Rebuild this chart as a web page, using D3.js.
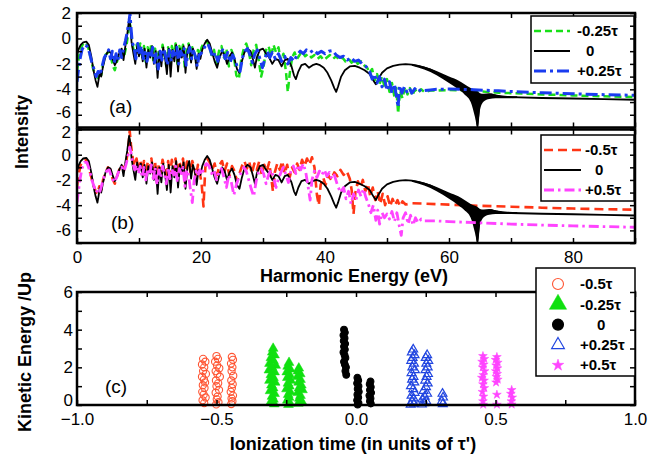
<!DOCTYPE html>
<html>
<head>
<meta charset="utf-8">
<script src="https://cdn.jsdelivr.net/npm/d3@7"></script>
<style>
  body { margin: 0; background: #fff; }
  svg { display: block; font-family: Arial, "Liberation Sans", sans-serif; }
</style>
</head>
<body>
<div id="chart"></div>
<script>
// ---- spectra (harmonic energy eV, log intensity) ----
const zeroTrace = [
[0,-1.3],[0.3,-0.8],[0.6,-0.5],[1.0,-0.3],[1.5,-0.25],[1.9,-0.5],[2.3,-1.4],[2.7,-2.6],[3.0,-3.3],[3.3,-3.8],[3.5,-3.2],[3.7,-2.6],[3.9,-3.0],[4.2,-2.2],[4.6,-1.4],[5.0,-1.0],[5.4,-1.1],[5.8,-1.7],[6.1,-2.1],[6.4,-1.8],[6.8,-1.2],[7.2,-0.8],[7.5,-1.7],[7.8,-0.6],[8.1,0.3],[8.4,1.5],[8.6,1.0],[8.8,-0.3],[9.1,-1.2],
[9.4,-2.0],[9.7,-0.6],[10.0,-1.4],[10.3,-0.7],[10.6,-1.8],[10.9,-0.8],[11.2,-2.3],[11.5,-0.9],[11.8,-1.5],[12.1,-0.6],[12.4,-2.0],[12.7,-1.0],[13.0,-3.1],[13.3,-1.0],[13.6,-2.2],[13.9,-0.7],[14.2,-1.5],[14.5,-2.8],[14.8,-0.8],[15.1,-3.0],[15.4,-0.9],[15.7,-1.8],[16.0,-0.5],[16.3,-2.6],[16.6,-0.8],[16.9,-1.5],[17.2,-0.6],[17.5,-2.7],[17.8,-1.0],[18.1,-0.5],[18.4,-1.9],[18.7,-0.8],[19.0,-1.3],[19.3,-2.4],[19.6,-1.2],[19.9,-1.6],[20.2,-0.9],[20.6,-0.4],[21.0,-0.1],[21.4,-0.4],[21.8,-1.1],
[22.2,-1.8],[22.6,-2.3],[23.0,-1.5],[23.4,-1.0],[23.8,-1.3],[24.2,-2.0],[24.6,-1.4],[25.0,-1.1],[25.4,-1.6],[25.8,-2.4],[26.2,-2.7],[26.6,-1.8],[27.0,-1.1],[27.5,-0.8],[28.0,-1.0],[28.4,-1.7],[28.7,-2.3],[29.0,-1.5],[29.5,-0.9],[30.0,-0.8],[30.5,-1.2],[31.0,-1.5],[31.5,-2.0],[32.0,-1.6],[32.5,-1.7],[33.0,-2.2],[33.5,-1.7],[34.0,-1.6],[34.6,-2.2],[35.0,-2.9],[35.3,-3.2],[35.7,-2.6],[36.2,-2.1],[36.8,-2.0],[37.4,-2.3],[38.0,-2.1],[38.6,-2.0],[39.2,-2.1],[39.8,-2.3],[40.4,-2.7],[41.0,-3.3],[41.5,-3.9],[41.8,-4.2],[42.1,-3.8],[42.6,-3.0],[43.2,-2.5],[44.0,-2.2],[44.8,-2.15],[45.6,-2.3],[46.4,-2.5],[47.2,-2.8],[47.8,-3.3],[48.2,-3.6],[48.6,-3.2],[49.2,-2.7],[50.0,-2.35],[51.0,-2.15],[52.0,-2.05],[53.0,-2.02],[54.0,-2.05],[55.0,-2.15],[56.0,-2.3],[57.0,-2.45],[58.0,-2.7],[59.0,-2.95],[60.0,-3.25],[61.0,-3.55],[62.0,-3.9],[63.0,-4.2],[63.8,-4.6],[64.3,-5.6],[64.6,-6.9],[64.9,-5.2],[65.4,-4.7],[66.0,-4.5],[66.8,-4.4],[67.6,-4.5],[68.5,-4.6],[70,-4.62],[75,-4.68],[80,-4.72],[85,-4.77],[90,-4.82]
];
// fast fringes of the 0 curve: [energy, upper, lower]
const zeroBand = [[54,-2.0,-2.15],[56,-2.2,-2.45],[58,-2.55,-2.9],[60,-3.0,-3.5],[61.5,-3.3,-4.0],[62.5,-3.6,-4.4],[63.5,-3.9,-5.0],[64.2,-4.05,-6.2],[64.6,-4.15,-7.0],[65.0,-4.3,-5.6],[65.6,-4.35,-4.95],[66.5,-4.3,-4.75],[67.5,-4.4,-4.7],[69,-4.5,-4.7],[71,-4.55,-4.68]];

const minusQuarter = [
[0,-2.6],[0.3,-1.5],[0.6,-0.8],[1.0,-0.4],[1.4,-0.3],[1.8,-0.7],[2.2,-1.5],[2.6,-2.4],[3.0,-2.9],[3.3,-3.1],[3.6,-2.6],[3.9,-2.9],[4.2,-2.0],[4.6,-1.3],[5.0,-1.1],[5.4,-1.3],[5.8,-2.2],[6.1,-2.5],[6.4,-1.9],[6.8,-1.3],[7.2,-0.9],[7.6,-1.4],[8.0,-0.5],[8.3,0.6],[8.5,1.3],[8.7,0.5],[9.0,-0.6],[9.3,-1.3],[9.6,-0.5],[9.9,-1.1],[10.2,-0.4],[10.5,-1.6],[10.8,-0.6],[11.1,-1.9],[11.4,-0.7],[11.7,-1.3],[12.0,-0.4],[12.3,-1.7],[12.6,-0.8],[12.9,-2.3],[13.2,-0.9],[13.5,-1.8],[13.8,-0.5],[14.1,-1.2],[14.4,-2.2],[14.7,-0.7],[15.0,-2.0],[15.3,-0.6],[15.6,-1.5],[15.9,-0.4],[16.2,-2.0],[16.5,-0.6],[16.8,-1.2],[17.1,-0.5],[17.4,-2.4],[17.7,-0.8],[18.0,-0.4],[18.3,-1.6],[18.6,-0.7],[18.9,-1.1],[19.2,-1.9],[19.5,-0.9],[19.8,-1.3],[20.1,-0.7],[20.5,-0.3],[20.9,-0.2],[21.3,-0.6],[21.7,-1.3],[22.1,-0.9],[22.5,-2.0],[22.9,-1.0],[23.3,-0.6],[23.7,-1.5],[24.1,-0.8],[24.5,-2.2],[24.9,-0.9],[25.3,-1.4],[25.7,-2.9],[26.1,-3.2],[26.5,-1.6],[26.9,-0.8],[27.3,-0.4],[27.7,-1.0],[28.1,-2.1],[28.5,-0.9],[28.9,-0.5],[29.3,-1.7],[29.7,-3.0],[30.1,-2.2],[30.5,-0.9],[30.9,-0.6],[31.3,-1.4],[31.7,-0.5],[32.1,-1.1],[32.5,-0.7],[32.9,-1.8],[33.3,-1.2],[33.7,-2.6],[34.0,-4.2],[34.3,-2.8],[34.7,-1.5],[35.1,-1.1],[35.5,-1.6],[35.9,-1.3],[36.3,-1.0],[36.8,-1.4],[37.3,-1.2],[37.8,-1.5],[38.3,-1.3],[38.8,-1.6],[39.3,-1.4],[39.8,-1.7],[40.3,-1.5],[40.8,-1.3],[41.3,-1.6],[41.8,-1.4],[42.3,-1.7],[42.8,-1.5],[43.3,-1.8],[43.8,-1.6],[44.3,-1.9],[44.8,-1.7],[45.3,-2.0],[45.8,-1.8],[46.3,-2.1],[46.8,-2.3],[47.2,-2.7],[47.6,-2.4],[48.0,-3.3],[48.4,-2.8],[48.8,-3.6],[49.2,-3.0],[49.6,-3.8],[50.0,-3.2],[50.4,-4.2],[50.8,-3.5],[51.2,-4.6],[51.5,-3.9],[51.8,-5.9],[52.1,-4.1],[52.5,-4.7],[52.9,-3.8],[53.3,-4.4],[53.7,-3.9],[54.1,-4.5],[54.5,-4.0],[55.0,-4.3],[55.5,-4.0],[56.0,-4.2],[57,-4.1],[58,-4.1],[60,-4.05],[62,-4.08],[64,-4.12],[66,-4.2],[68,-4.26],[70,-4.3],[75,-4.4],[80,-4.48],[85,-4.55],[90,-4.6]
];

const plusQuarter = [
[0,-3.4],[0.2,-2.6],[0.5,-1.6],[0.8,-0.9],[1.2,-0.5],[1.6,-0.6],[2.0,-1.1],[2.4,-1.9],[2.8,-2.5],[3.1,-3.0],[3.4,-2.6],[3.7,-2.9],[4.0,-2.3],[4.4,-1.5],[4.8,-1.2],[5.1,-0.9],[5.4,-1.6],[5.7,-1.0],[6.0,-1.9],[6.3,-1.2],[6.6,-1.7],[6.9,-0.9],[7.2,-1.5],[7.5,-0.8],[7.8,-0.2],[8.1,0.5],[8.4,1.4],[8.55,1.95],[8.7,0.9],[8.9,-0.3],[9.2,-0.7],[9.5,-1.6],[9.8,-0.4],[10.1,-1.2],[10.4,-0.6],[10.7,-1.6],[11.0,-1.1],[11.3,-1.8],[11.6,-0.9],[11.9,-1.5],[12.2,-0.7],[12.5,-1.9],[12.8,-1.1],[13.1,-2.4],[13.4,-1.0],[13.7,-1.7],[14.0,-0.8],[14.3,-1.4],[14.6,-2.1],[14.9,-0.9],[15.2,-1.8],[15.5,-1.0],[15.8,-1.5],[16.1,-0.7],[16.4,-2.0],[16.7,-1.0],[17.0,-1.3],[17.3,-0.8],[17.6,-2.1],[17.9,-1.1],[18.2,-0.7],[18.5,-1.6],[18.8,-1.0],[19.1,-1.4],[19.4,-2.2],[19.7,-1.3],[20.0,-1.2],[20.3,-0.9],[20.7,-0.6],[21.1,-0.4],[21.5,-0.9],[21.9,-1.5],[22.3,-1.1],[22.7,-1.8],[23.1,-1.2],[23.5,-0.9],[23.9,-1.6],[24.3,-1.1],[24.7,-1.9],[25.1,-1.3],[25.5,-1.7],[25.9,-2.3],[26.3,-2.6],[26.7,-1.5],[27.1,-1.0],[27.5,-0.8],[27.9,-1.3],[28.3,-1.9],[28.7,-1.2],[29.1,-0.9],[29.5,-1.6],[29.9,-2.3],[30.3,-1.6],[30.7,-1.0],[31.1,-1.5],[31.5,-1.1],[32.0,-1.6],[32.5,-1.2],[33.0,-1.8],[33.5,-1.4],[34.0,-2.0],[34.5,-1.5],[35.0,-1.8],[35.5,-1.3],[36.0,-1.0],[36.5,-1.2],[37.0,-0.9],[37.6,-1.1],[38.2,-0.9],[38.8,-1.2],[39.4,-1.0],[40.0,-1.2],[40.6,-1.0],[41.2,-0.95],[41.8,-1.3],[42.4,-1.5],[43.0,-1.4],[43.6,-1.7],[44.2,-1.5],[44.8,-1.8],[45.4,-1.7],[46.0,-2.0],[46.6,-2.2],[47.2,-2.6],[47.6,-3.2],[48.0,-2.8],[48.4,-3.5],[48.8,-3.0],[49.2,-3.8],[49.6,-3.2],[50.0,-4.1],[50.4,-3.4],[50.8,-4.3],[51.2,-3.6],[51.8,-5.4],[52.0,-3.7],[52.4,-4.3],[52.8,-3.8],[53.2,-4.2],[53.6,-3.9],[54.0,-4.3],[54.5,-3.95],[55.0,-4.2],[55.5,-4.0],[56.0,-4.1],[57,-4.05],[58,-4.0],[60,-3.98],[62,-4.0],[64,-4.03],[66,-4.08],[68,-4.12],[70,-4.17],[75,-4.27],[80,-4.35],[85,-4.42],[90,-4.47]
];

const minusHalf = [
[0,-2.5],[0.3,-1.5],[0.6,-0.8],[1.0,-0.5],[1.4,-0.4],[1.8,-0.8],[2.2,-1.6],[2.6,-2.3],[3.0,-2.9],[3.3,-3.1],[3.6,-2.5],[3.9,-2.8],[4.2,-2.0],[4.6,-1.4],[5.0,-1.0],[5.4,-1.2],[5.8,-2.0],[6.1,-2.3],[6.4,-1.8],[6.8,-1.2],[7.2,-0.8],[7.6,-1.2],[8.0,-0.4],[8.3,0.7],[8.5,1.9],[8.7,0.8],[9.0,-0.3],[9.3,-0.9],[9.6,-0.3],[9.9,-1.2],[10.2,-0.4],[10.5,-1.4],[10.8,-0.5],[11.1,-1.7],[11.4,-0.6],[11.7,-1.2],[12.0,-0.3],[12.3,-1.5],[12.6,-0.6],[12.9,-2.2],[13.2,-0.7],[13.5,-1.4],[13.8,-0.4],[14.1,-1.1],[14.4,-2.0],[14.7,-0.5],[15.0,-1.7],[15.3,-0.4],[15.6,-1.3],[15.9,-0.3],[16.2,-1.9],[16.5,-0.5],[16.8,-1.1],[17.1,-0.3],[17.4,-2.3],[17.7,-0.6],[18.0,-0.4],[18.3,-1.4],[18.6,-0.5],[18.9,-1.0],[19.2,-1.8],[19.5,-0.8],[19.8,-1.4],[20.1,-2.3],[20.4,-4.1],[20.7,-1.0],[21.0,-0.3],[21.4,-0.6],[21.8,-1.2],[22.2,-0.7],[22.6,-1.6],[23.0,-0.8],[23.4,-0.5],[23.8,-1.3],[24.2,-0.7],[24.6,-1.7],[25.0,-0.9],[25.4,-1.3],[25.8,-2.1],[26.2,-1.5],[26.6,-0.9],[27.0,-0.5],[27.4,-1.1],[27.8,-0.6],[28.2,-1.5],[28.6,-0.7],[29.0,-1.2],[29.4,-0.5],[29.8,-1.6],[30.2,-0.8],[30.6,-1.3],[31.0,-0.6],[31.4,-2.1],[31.6,-2.9],[31.9,-1.4],[32.3,-0.7],[32.7,-1.2],[33.1,-0.5],[33.5,-1.5],[33.9,-0.8],[34.3,-1.8],[34.7,-1.0],[35.1,-1.4],[35.5,-0.7],[35.9,-1.2],[36.3,-0.4],[36.7,-0.9],[37.1,-0.3],[37.5,-0.8],[37.9,-0.2],[38.3,-1.0],[38.7,-3.2],[39.0,-4.0],[39.3,-2.4],[39.7,-1.8],[40.1,-2.4],[40.5,-1.6],[41.0,-2.0],[41.5,-1.4],[42.0,-1.7],[42.5,-1.2],[43.0,-1.6],[43.5,-1.3],[44.0,-1.9],[44.3,-2.8],[44.6,-4.7],[44.9,-3.0],[45.3,-2.1],[45.7,-2.6],[46.1,-2.0],[46.5,-2.9],[46.9,-2.3],[47.3,-3.3],[47.7,-2.6],[48.1,-3.6],[48.5,-2.9],[48.9,-3.9],[49.3,-3.1],[49.7,-4.0],[50.1,-3.3],[50.5,-4.1],[50.9,-3.5],[51.3,-4.0],[51.7,-3.6],[52.1,-4.1],[52.5,-3.7],[53.0,-3.95],[54,-3.85],[56,-3.88],[58,-3.92],[60,-3.96],[65,-4.05],[70,-4.12],[75,-4.2],[80,-4.27],[85,-4.32],[90,-4.36]
];

const plusHalf = [
[0,-3.8],[0.2,-3.0],[0.5,-1.9],[0.8,-1.1],[1.2,-0.6],[1.6,-0.6],[2.0,-1.2],[2.4,-2.0],[2.8,-2.6],[3.1,-3.0],[3.4,-2.7],[3.7,-2.9],[4.0,-2.4],[4.4,-1.7],[4.8,-1.3],[5.2,-1.2],[5.6,-1.8],[6.0,-2.2],[6.4,-1.8],[6.8,-1.2],[7.2,-1.0],[7.6,-1.3],[8.0,-0.6],[8.3,0.1],[8.5,0.6],[8.7,0.2],[9.0,-0.7],[9.3,-1.2],[9.6,-0.8],[9.9,-1.5],[10.2,-0.9],[10.5,-1.8],[10.8,-1.0],[11.1,-2.0],[11.4,-1.1],[11.7,-1.6],[12.0,-0.8],[12.3,-1.9],[12.6,-1.0],[12.9,-2.4],[13.2,-1.2],[13.5,-1.8],[13.8,-0.9],[14.1,-1.5],[14.4,-2.3],[14.7,-1.0],[15.0,-1.9],[15.3,-1.1],[15.6,-1.6],[15.9,-0.9],[16.2,-2.2],[16.5,-1.1],[16.8,-1.5],[17.1,-1.0],[17.4,-2.5],[17.7,-1.2],[18.0,-1.6],[18.3,-2.8],[18.6,-3.8],[18.9,-2.0],[19.2,-1.3],[19.5,-1.7],[19.8,-1.2],[20.1,-1.6],[20.5,-1.0],[20.9,-0.7],[21.3,-0.9],[21.7,-1.5],[22.1,-1.2],[22.5,-2.0],[22.9,-1.4],[23.3,-1.1],[23.7,-1.8],[24.1,-2.6],[24.5,-1.6],[24.9,-2.2],[25.3,-3.2],[25.7,-2.4],[26.1,-1.8],[26.5,-1.4],[26.9,-1.0],[27.3,-1.3],[27.7,-2.0],[28.1,-2.7],[28.5,-3.3],[28.9,-2.1],[29.3,-1.4],[29.7,-1.1],[30.1,-1.5],[30.5,-2.3],[30.9,-1.6],[31.3,-1.2],[31.7,-1.8],[32.1,-2.6],[32.5,-1.9],[32.9,-1.4],[33.3,-1.0],[33.7,-1.6],[34.1,-2.2],[34.5,-1.3],[34.9,-0.9],[35.3,-1.5],[35.7,-0.8],[36.1,-1.2],[36.5,-0.7],[36.9,-1.4],[37.3,-2.6],[37.6,-3.6],[37.9,-2.0],[38.3,-1.3],[38.7,-1.8],[39.1,-1.3],[39.5,-1.6],[39.9,-1.2],[40.3,-1.7],[40.7,-1.4],[41.1,-1.9],[41.5,-1.6],[42.0,-2.4],[42.5,-3.0],[43.0,-2.6],[43.4,-3.5],[43.8,-2.9],[44.2,-3.9],[44.6,-3.1],[45.0,-3.6],[45.4,-2.8],[45.8,-3.3],[46.2,-2.7],[46.6,-3.4],[47.0,-3.9],[47.4,-4.6],[47.8,-4.0],[48.2,-5.2],[48.5,-4.4],[48.8,-5.5],[49.2,-4.6],[49.6,-5.0],[50.0,-4.7],[50.4,-5.1],[50.8,-4.5],[51.2,-5.3],[51.6,-4.6],[52.0,-5.7],[52.3,-6.4],[52.6,-5.0],[53.0,-4.6],[53.4,-5.5],[53.8,-4.8],[54.2,-5.6],[54.6,-5.0],[55.0,-5.4],[55.5,-5.1],[56,-5.25],[58,-5.25],[60,-5.3],[65,-5.4],[70,-5.5],[75,-5.58],[80,-5.64],[85,-5.7],[90,-5.75]
];

// ---- panel (c): [ionization time, kinetic energy / Up] ----
const redCircles = [
[-0.548,2.45],[-0.540,2.3],[-0.552,2.15],[-0.544,2.0],[-0.548,1.8],[-0.538,1.65],[-0.552,1.5],[-0.545,1.35],[-0.541,1.2],[-0.549,1.05],[-0.543,0.9],[-0.551,0.7],[-0.546,0.55],[-0.539,0.4],[-0.550,0.25],[-0.544,0.1],
[-0.500,2.6],[-0.495,2.45],[-0.505,2.3],[-0.498,2.1],[-0.490,1.95],[-0.503,1.8],[-0.497,1.65],[-0.488,1.5],[-0.502,1.3],[-0.494,1.15],[-0.500,1.0],[-0.491,0.8],[-0.503,0.65],[-0.496,0.45],[-0.499,0.3],[-0.493,0.15],[-0.501,0.03],
[-0.445,2.55],[-0.441,2.4],[-0.448,2.2],[-0.443,2.0],[-0.446,1.8],[-0.440,1.55],[-0.447,1.3],[-0.442,1.1],[-0.445,0.9],[-0.449,0.7],[-0.441,0.5],[-0.446,0.35],[-0.443,0.2],[-0.447,0.05]
];
const greenTriangles = [
[-0.297,3.0],[-0.300,2.8],[-0.292,2.65],[-0.305,2.5],[-0.296,2.35],[-0.310,2.2],[-0.288,2.1],[-0.302,2.0],[-0.312,1.85],[-0.292,1.75],[-0.305,1.6],[-0.296,1.45],[-0.310,1.3],[-0.290,1.2],[-0.303,1.05],[-0.297,0.9],[-0.308,0.75],[-0.292,0.6],[-0.301,0.45],[-0.296,0.3],[-0.306,0.15],[-0.293,0.05],
[-0.240,2.25],[-0.245,2.05],[-0.236,1.9],[-0.248,1.75],[-0.238,1.6],[-0.246,1.45],[-0.234,1.3],[-0.244,1.15],[-0.239,1.0],[-0.249,0.85],[-0.236,0.7],[-0.243,0.55],[-0.240,0.4],[-0.246,0.25],[-0.237,0.1],[-0.242,0.02],
[-0.205,1.95],[-0.208,1.8],[-0.200,1.65],[-0.210,1.5],[-0.199,1.35],[-0.206,1.2],[-0.196,1.05],[-0.204,0.9],[-0.192,0.8],[-0.209,0.65],[-0.199,0.5],[-0.203,0.35],[-0.195,0.2],[-0.207,0.08]
];
const blackDots = [
[-0.043,4.0],[-0.040,3.85],[-0.045,3.7],[-0.041,3.55],[-0.044,3.4],[-0.039,3.25],[-0.043,3.1],[-0.040,2.95],[-0.045,2.8],[-0.041,2.65],[-0.038,2.5],[-0.043,2.3],[-0.040,2.15],[-0.036,2.0],[-0.038,1.8],[-0.035,1.6],
[0.005,1.45],[0.008,1.3],[0.004,1.15],[0.009,1.0],[0.006,0.85],[0.010,0.7],[0.005,0.55],[0.008,0.4],[0.004,0.25],[0.009,0.1],[0.006,0.02],
[0.052,1.25],[0.049,1.1],[0.053,0.95],[0.050,0.8],[0.054,0.65],[0.048,0.5],[0.052,0.35],[0.050,0.2],[0.053,0.08]
];
const blueTriangles = [
[0.205,2.95],[0.200,2.8],[0.210,2.65],[0.203,2.5],[0.198,2.35],[0.208,2.2],[0.202,2.0],[0.211,1.85],[0.199,1.7],[0.206,1.5],[0.201,1.35],[0.209,1.2],[0.197,1.0],[0.205,0.85],[0.210,0.65],[0.199,0.5],[0.206,0.35],[0.201,0.2],[0.208,0.08],[0.196,0.02],
[0.255,2.65],[0.250,2.5],[0.259,2.35],[0.252,2.2],[0.257,2.0],[0.249,1.85],[0.258,1.65],[0.253,1.5],[0.248,1.3],[0.257,1.15],[0.251,0.95],[0.242,0.75],[0.255,0.6],[0.246,0.45],[0.238,0.3],[0.252,0.2],[0.244,0.1],[0.236,0.03],
[0.310,0.6],[0.312,0.4],[0.308,0.2],[0.311,0.05]
];
const magentaStars = [
[0.455,2.6],[0.460,2.45],[0.452,2.3],[0.458,2.15],[0.454,2.0],[0.461,1.8],[0.456,1.6],[0.451,1.45],[0.459,1.3],[0.455,1.1],[0.460,0.9],[0.453,0.7],[0.457,0.45],[0.455,0.2],[0.456,0.02],
[0.505,2.55],[0.500,2.4],[0.508,2.25],[0.502,2.1],[0.507,1.95],[0.501,1.8],[0.506,1.65],[0.503,1.5],[0.508,1.35],[0.502,1.2],[0.505,0.55],[0.505,0.02],
[0.558,0.8],[0.555,0.6],[0.560,0.4],[0.557,0.2],[0.558,0.03]
];

const energyTicks = [0, 10, 20, 30, 40, 50, 60, 70, 80, 90];
const energyLabels = [0, 20, 40, 60, 80];
const intensityTicks = [-7, -6, -5, -4, -3, -2, -1, 0, 1, 2];
const intensityLabels = [-6, -4, -2, 0, 2];
const timeTicks = [-1, -0.75, -0.5, -0.25, 0, 0.25, 0.5, 0.75, 1];
const timeLabels = [-1, -0.5, 0, 0.5, 1];
const keTicks = [0, 1, 2, 3, 4, 5, 6];
const keLabels = [0, 2, 4, 6];

const width = 670, height = 461;
const left = 77, right = 635;
const tickFont = 17;

const svg = d3.select("#chart").append("svg")
    .attr("width", width)
    .attr("height", height);

const xE = d3.scaleLinear().domain([0, 90]).range([left, right]);

function styleAxis(g, size) {
    g.attr("font-size", size).attr("font-family", null);
    g.select(".domain").remove();
    g.selectAll("line").attr("stroke-width", 1.5);
    g.selectAll("text").attr("fill", "#000");
}

// nudge: {value: pixel shift} for crowded labels at panel joins
function frameAxes(g, x, y, top, bottom, xt, xl, yt, yl, xFmt, padX, padY, nudge) {
    g.append("g").attr("transform", `translate(0,${bottom})`)
        .call(d3.axisBottom(x).tickValues(xt).tickSize(-5).tickPadding(padX)
            .tickFormat(d => xl && xl.includes(d) ? xFmt(d) : ""))
        .call(a => styleAxis(a, tickFont));
    g.append("g").attr("transform", `translate(0,${top})`)
        .call(d3.axisTop(x).tickValues(xt).tickSize(-5).tickFormat(""))
        .call(a => styleAxis(a, tickFont));
    const ya = g.append("g").attr("transform", `translate(${left},0)`)
        .call(d3.axisLeft(y).tickValues(yt).tickSize(-5).tickPadding(padY)
            .tickFormat(d => yl.includes(d) ? d : ""))
        .call(a => styleAxis(a, tickFont));
    ya.selectAll(".tick text")
        .attr("transform", d => nudge && nudge[d] ? `translate(0,${nudge[d]})` : null);
    g.append("rect")
        .attr("x", left).attr("y", top)
        .attr("width", right - left).attr("height", bottom - top)
        .attr("fill", "none").attr("stroke", "#000").attr("stroke-width", 2.5);
}

function rightTicks(g, y, yt) {
    g.append("g").attr("transform", `translate(${right},0)`)
        .call(d3.axisRight(y).tickValues(yt).tickSize(-5).tickFormat(""))
        .call(a => styleAxis(a, tickFont));
}

function lineLegend(g, box, entries) {
    g.append("rect")
        .attr("x", box.x).attr("y", box.y).attr("width", box.w).attr("height", box.h)
        .attr("fill", "#fff").attr("stroke", "#000").attr("stroke-width", 1.5);
    entries.forEach((e, i) => {
        const yy = box.y + 15 + i * 20;
        g.append("line")
            .attr("x1", box.x + 3).attr("x2", box.x + 3 + box.len)
            .attr("y1", yy).attr("y2", yy)
            .attr("stroke", e.color).attr("stroke-width", e.legendWidth)
            .attr("stroke-dasharray", e.dash);
        g.append("text")
            .attr("x", box.x + box.textX + (e.label === "0" ? box.zeroShift : 0))
            .attr("y", yy).attr("dy", "0.35em")
            .attr("font-size", 15).attr("font-weight", "bold")
            .text(e.label);
    });
}

function spectrumPanel(id, top, bottom, series, band, showLabels, tag, box, nudge) {
    const y = d3.scaleLinear().domain([-7, 2]).range([bottom, top]);
    const g = svg.append("g").attr("class", "panel-" + id);

    g.append("clipPath").attr("id", "clip-" + id)
        .append("rect").attr("x", left).attr("y", top)
        .attr("width", right - left).attr("height", bottom - top);
    const plot = g.append("g").attr("clip-path", `url(#clip-${id})`);

    const line = d3.line().x(d => xE(d[0])).y(d => y(d[1]));
    const area = d3.area().x(d => xE(d[0])).y0(d => y(d[2])).y1(d => y(d[1])).curve(d3.curveMonotoneX);

    series.forEach(s => {
        plot.append("path").datum(s.values)
            .attr("d", line)
            .attr("fill", "none")
            .attr("stroke", s.color)
            .attr("stroke-width", s.width)
            .attr("stroke-dasharray", s.dash)
            .attr("stroke-linejoin", "round");
        if (s.band) {
            plot.append("path").datum(band).attr("d", area).attr("fill", "#000");
        }
    });

    frameAxes(g, xE, y, top, bottom, energyTicks, showLabels ? energyLabels : null,
        intensityTicks, intensityLabels, d => d, 8, 6, nudge);

    g.append("text")
        .attr("x", tag.x).attr("y", tag.y)
        .attr("font-size", 19)
        .text(tag.text);

    lineLegend(g, box, series.slice().sort((a, b) => a.order - b.order));
    rightTicks(g, y, intensityTicks);
}

spectrumPanel("a", 13, 127.5, [
    { label: "-0.25τ", values: minusQuarter, color: "#18e018", width: 2.5, legendWidth: 2.5, dash: "7,4", order: 0 },
    { label: "0", values: zeroTrace, color: "#000", width: 1.8, legendWidth: 2, dash: null, order: 1, band: true },
    { label: "+0.25τ", values: plusQuarter, color: "#1a3cf0", width: 3, legendWidth: 3, dash: "12,4,3,4", order: 2 }
], zeroBand, false, { text: "(a)", x: 109, y: 113 },
    { x: 531, y: 16, w: 103, h: 67, len: 36, textX: 46, zeroShift: 9 }, { "-6": -3 });

spectrumPanel("b", 129.5, 243, [
    { label: "-0.5τ", values: minusHalf, color: "#ff3514", width: 2.6, legendWidth: 2.6, dash: "9,5", order: 0 },
    { label: "0", values: zeroTrace, color: "#000", width: 1.8, legendWidth: 2, dash: null, order: 1, band: true },
    { label: "+0.5τ", values: plusHalf, color: "#ff44ff", width: 2.8, legendWidth: 2.8, dash: "10,4,2.5,4", order: 2 }
], zeroBand, true, { text: "(b)", x: 111, y: 229 },
    { x: 541, y: 135, w: 93, h: 66, len: 37, textX: 44, zeroShift: 10 }, { "2": 3 });

// ---- panel (c) ----
const xT = d3.scaleLinear().domain([-1, 1]).range([left, right]);
const yK = d3.scaleLinear().domain([0, 6]).range([405, 292]);
const gc = svg.append("g").attr("class", "panel-c");

const groups = [
    { label: "-0.5τ", pts: redCircles, type: "circle", fill: "none", stroke: "#ff5533", size: 3.6, legendSize: 5.5 },
    { label: "-0.25τ", pts: greenTriangles, type: d3.symbolTriangle, fill: "#10e010", stroke: "#10e010", size: 42, legendSize: 130 },
    { label: "0", pts: blackDots, type: "dot", fill: "#000", stroke: "#000", size: 3.4, legendSize: 5.5 },
    { label: "+0.25τ", pts: blueTriangles, type: d3.symbolTriangle, fill: "none", stroke: "#2246e0", size: 34, legendSize: 70 },
    { label: "+0.5τ", pts: magentaStars, type: d3.symbolStar, fill: "#ff44ff", stroke: "#ff44ff", size: 24, legendSize: 42 }
];

function drawMarker(sel, grp, size) {
    if (grp.type === "circle" || grp.type === "dot") {
        sel.append("circle").attr("r", size)
            .attr("fill", grp.fill).attr("stroke", grp.stroke).attr("stroke-width", 1.1);
    } else {
        sel.append("path").attr("d", d3.symbol().type(grp.type).size(size)())
            .attr("fill", grp.fill).attr("stroke", grp.stroke).attr("stroke-width", grp.fill === "none" ? 1.2 : 0.5);
    }
}

groups.forEach(grp => {
    gc.append("g").selectAll("g")
        .data(grp.pts)
        .enter()
        .append("g")
        .attr("transform", d => `translate(${xT(d[0])},${yK(d[1])})`)
        .each(function () { drawMarker(d3.select(this), grp, grp.size); });
});

frameAxes(gc, xT, yK, 292, 405, timeTicks, timeLabels, keTicks, keLabels, d3.format(".1f"), 8, 4, { "0": -5 });

gc.append("text").attr("x", 105).attr("y", 393).attr("font-size", 19).text("(c)");

const lc = { x: 536, y: 268, w: 99, h: 108 };
gc.append("rect")
    .attr("x", lc.x).attr("y", lc.y).attr("width", lc.w).attr("height", lc.h)
    .attr("fill", "#fff").attr("stroke", "#000").attr("stroke-width", 1.5);
groups.forEach((grp, i) => {
    const yy = 284 + i * 20.3;
    const m = gc.append("g").attr("transform", `translate(558,${yy})`);
    drawMarker(m, grp, grp.legendSize);
    gc.append("text")
        .attr("x", grp.label === "0" ? 597 : 580).attr("y", yy).attr("dy", "0.35em")
        .attr("font-size", 15).attr("font-weight", "bold")
        .text(grp.label);
});
rightTicks(gc, yK, keTicks);

// ---- axis titles ----
svg.append("text")
    .attr("transform", "translate(28,132) rotate(-90)")
    .attr("text-anchor", "middle").attr("font-size", 18).attr("font-weight", "bold")
    .text("Intensity");
svg.append("text")
    .attr("transform", "translate(31,352) rotate(-90)")
    .attr("text-anchor", "middle").attr("font-size", 18).attr("font-weight", "bold")
    .text("Kinetic Energy /Up");
svg.append("text")
    .attr("x", 354).attr("y", 282)
    .attr("text-anchor", "middle").attr("font-size", 18).attr("font-weight", "bold")
    .text("Harmonic Energy (eV)");
svg.append("text")
    .attr("x", 353).attr("y", 450)
    .attr("text-anchor", "middle").attr("font-size", 18).attr("font-weight", "bold")
    .text("Ionization time (in units of τ')");
</script>
</body>
</html>
